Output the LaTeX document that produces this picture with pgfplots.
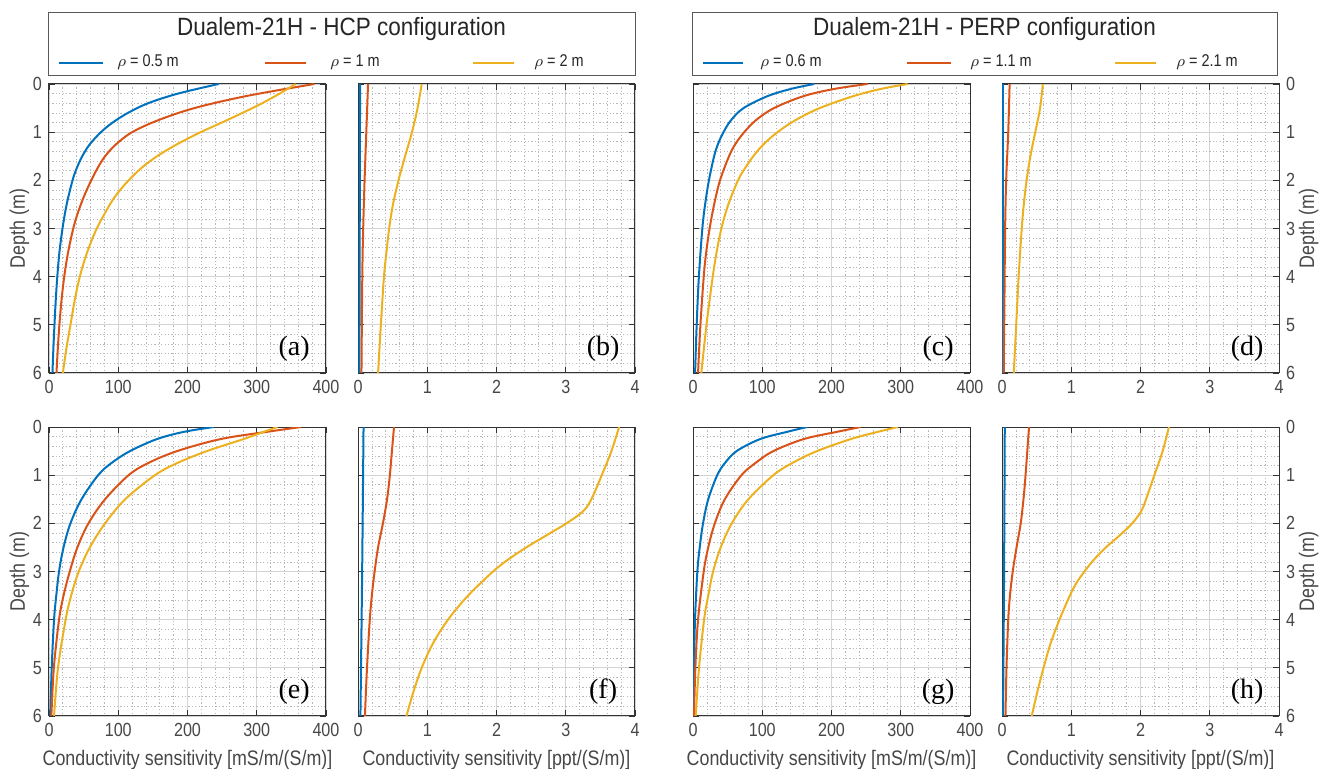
\documentclass[border=0pt]{standalone}
\usepackage{fontspec}
\setmainfont{Liberation Sans}[FakeStretch=0.85]
\newfontfamily\titlefont{Liberation Sans}[FakeStretch=0.9]
\newfontfamily\panelfont{Liberation Serif}
\usepackage{pgfplots}
\pgfplotsset{compat=1.18}
\definecolor{mblue}{RGB}{0,114,189}
\definecolor{mred}{RGB}{217,83,25}
\definecolor{myel}{RGB}{237,177,32}
\pgfplotsset{
  panel/.style={scale only axis, width=138.5pt, height=144.5pt,
    y dir=reverse, ymin=0, ymax=6, ytick={0,1,...,6},
    grid=both, minor x tick num=4, minor y tick num=4,
    major grid style={black!17, line width=0.4pt},
    minor grid style={black!28, dash pattern=on 0.6pt off 1.1pt, line width=0.35pt},
    tick align=inside, axis line style={black!80, line width=0.5pt},
    tick style={black!80, line width=0.4pt},
    major tick length=3pt, minor tick length=0pt,
    ticklabel style={font=\fontsize{9.5}{10}\selectfont, text=black!72},
    label style={font=\fontsize{10.5}{12}\selectfont, text=black!72},
    ylabel shift=-5pt,
    /pgf/number format/assume math mode=true,
    anchor=north west},
  cv/.style={line width=1pt, smooth, tension=0.55},
  sens/.style={xmin=0, xmax=400, xtick={0,100,...,400}},
  ppt/.style={xmin=0, xmax=4, xtick={0,1,...,4}},
  noyl/.style={yticklabels={}},
  rightyl/.style={yticklabel pos=right, ylabel={Depth (m)}},
  leftyl/.style={ylabel={Depth (m)}},
}
\newcommand{\plabel}[1]{\node[font=\panelfont\fontsize{14}{14}\selectfont, text=black] at (axis description cs:0.885,0.085) {#1};}
\begin{document}
\begin{tikzpicture}
\useasboundingbox (0,0) rectangle (661.5pt,-384.5pt);
% ---------- legend boxes ----------
\draw[black!65, line width=0.5pt, fill=white] (24pt,-6.5pt) rectangle (317.5pt,-38pt);
\node[font=\titlefont\fontsize{12.5}{12.5}\selectfont, text=black!85] at (170.75pt,-14.5pt) {Dualem-21H - HCP configuration};
\draw[mblue, line width=1pt] (29.5pt,-31.5pt) -- (51.5pt,-31.5pt);
\node[anchor=west, inner sep=0pt, font=\fontsize{8.5}{9}\selectfont, text=black!85] at (58.5pt,-31pt) {$\rho$ = 0.5 m};
\draw[mred, line width=1pt] (132.5pt,-31.5pt) -- (153pt,-31.5pt);
\node[anchor=west, inner sep=0pt, font=\fontsize{8.5}{9}\selectfont, text=black!85] at (165pt,-31pt) {$\rho$ = 1 m};
\draw[myel, line width=1pt] (236.5pt,-31.5pt) -- (257pt,-31.5pt);
\node[anchor=west, inner sep=0pt, font=\fontsize{8.5}{9}\selectfont, text=black!85] at (267pt,-31pt) {$\rho$ = 2 m};

\draw[black!65, line width=0.5pt, fill=white] (346pt,-6.5pt) rectangle (638.5pt,-38pt);
\node[font=\titlefont\fontsize{12.5}{12.5}\selectfont, text=black!85] at (492.25pt,-14.5pt) {Dualem-21H - PERP configuration};
\draw[mblue, line width=1pt] (351.5pt,-31.5pt) -- (371.5pt,-31.5pt);
\node[anchor=west, inner sep=0pt, font=\fontsize{8.5}{9}\selectfont, text=black!85] at (380pt,-31pt) {$\rho$ = 0.6 m};
\draw[mred, line width=1pt] (453.5pt,-31.5pt) -- (475.5pt,-31.5pt);
\node[anchor=west, inner sep=0pt, font=\fontsize{8.5}{9}\selectfont, text=black!85] at (485pt,-31pt) {$\rho$ = 1.1 m};
\draw[myel, line width=1pt] (557.5pt,-31.5pt) -- (578pt,-31.5pt);
\node[anchor=west, inner sep=0pt, font=\fontsize{8.5}{9}\selectfont, text=black!85] at (588pt,-31pt) {$\rho$ = 2.1 m};

% ---------- (a) ----------
\begin{axis}[panel, sens, leftyl, at={(24.5pt,-42pt)}]
\addplot[mblue, cv] coordinates {(245,0) (186,0.2) (143,0.4) (114,0.6) (92,0.8) (75,1.0) (59,1.25) (48,1.5) (40,1.75) (34,2.0) (25.5,2.5) (19.5,3.0) (15,3.5) (12,4.0) (9.7,4.5) (7.9,5.0) (6.3,5.5) (5,6.0)};
\addplot[mred, cv] coordinates {(383,0) (285,0.25) (210,0.5) (158,0.75) (120,1.0) (97,1.25) (81,1.5) (70,1.75) (61,2.0) (53,2.25) (46,2.5) (40,2.75) (35,3.0) (27.5,3.5) (22,4.0) (18,4.5) (15,5.0) (12.7,5.5) (10.8,6.0)};
\addplot[myel, cv] coordinates {(356,0) (333,0.2) (305,0.42) (275,0.63) (245,0.83) (219,1.0) (185,1.25) (156,1.5) (133,1.75) (115,2.0) (100,2.25) (88,2.5) (69,3.0) (55,3.5) (44.5,4.0) (37,4.5) (31,5.0) (25,5.5) (20,6.0)};
\plabel{(a)}
\end{axis}
% ---------- (b) ----------
\begin{axis}[panel, ppt, noyl, at={(179pt,-42pt)}]
\addplot[mblue, cv] coordinates {(0.03,0) (0.025,3) (0.02,6)};
\addplot[mred, cv] coordinates {(0.145,0) (0.12,1) (0.095,2) (0.075,3) (0.062,4) (0.05,6)};
\addplot[myel, cv] coordinates {(0.92,0) (0.86,0.5) (0.78,1.0) (0.68,1.5) (0.585,2.0) (0.505,2.5) (0.45,3.0) (0.41,3.5) (0.375,4.0) (0.33,5.0) (0.29,6.0)};
\plabel{(b)}
\end{axis}
% ---------- (c) ----------
\begin{axis}[panel, sens, noyl, at={(346.5pt,-42pt)}]
\addplot[mblue, cv] coordinates {(175,0) (142,0.1) (108,0.25) (73,0.5) (55,0.75) (44,1) (36,1.25) (30.5,1.5) (23,2) (17.5,2.5) (13.5,3) (8.5,4) (5.3,5) (3,6)};
\addplot[mred, cv] coordinates {(252,0) (205,0.1) (160,0.25) (117,0.5) (91,0.75) (74,1) (61,1.25) (52,1.5) (39,2) (30.5,2.5) (24,3) (19,3.5) (15.5,4) (10.7,5) (7.3,6)};
\addplot[myel, cv] coordinates {(310,0) (272,0.1) (232,0.25) (183,0.5) (148,0.75) (122,1) (102,1.25) (87,1.5) (75,1.75) (65,2) (51,2.5) (41,3) (34,3.5) (28.5,4) (19.5,5) (12,6)};
\plabel{(c)}
\end{axis}
% ---------- (d) ----------
\begin{axis}[panel, ppt, rightyl, at={(501pt,-42pt)}]
\addplot[mblue, cv] coordinates {(0.015,0) (0.015,6)};
\addplot[mred, cv] coordinates {(0.11,0) (0.09,1) (0.06,2) (0.045,3) (0.035,4.5) (0.025,6)};
\addplot[myel, cv] coordinates {(0.59,0) (0.55,0.5) (0.48,1.0) (0.41,1.5) (0.355,2.0) (0.315,2.5) (0.285,3.0) (0.24,4.0) (0.205,5.0) (0.17,6.0)};
\plabel{(d)}
\end{axis}
% ---------- (e) ----------
\begin{axis}[panel, sens, leftyl, at={(24.5pt,-213.5pt)}, xlabel={Conductivity sensitivity [mS/m/(S/m)]}]
\addplot[mblue, cv] coordinates {(238,0) (195,0.1) (156,0.25) (117,0.5) (90,0.75) (71,1) (47,1.5) (31,2) (21,2.5) (14.5,3) (10.5,3.5) (7.3,4) (3.9,5) (1.9,6)};
\addplot[mred, cv] coordinates {(364,0) (315,0.1) (248,0.25) (185,0.5) (143,0.75) (115,1) (81,1.5) (57,2) (41,2.5) (30,3) (21,3.5) (14.5,4) (7,5) (3.4,6)};
\addplot[myel, cv] coordinates {(330,0) (310,0.1) (281,0.25) (228,0.5) (185,0.75) (153,1) (110,1.5) (81,2) (59,2.5) (43,3) (32,3.5) (24,4) (13,5) (7.3,6)};
\plabel{(e)}
\end{axis}
% ---------- (f) ----------
\begin{axis}[panel, ppt, noyl, at={(179pt,-213.5pt)}, xlabel={Conductivity sensitivity [ppt/(S/m)]}]
\addplot[mblue, cv] coordinates {(0.08,0) (0.06,3) (0.035,6)};
\addplot[mred, cv] coordinates {(0.52,0) (0.49,0.5) (0.46,1) (0.42,1.5) (0.36,2) (0.29,2.5) (0.24,3) (0.20,3.5) (0.17,4) (0.13,5) (0.10,6)};
\addplot[myel, cv] coordinates {(3.77,0) (3.66,0.5) (3.52,1) (3.37,1.5) (3.25,1.75) (3.01,2) (2.72,2.25) (2.43,2.5) (2.17,2.75) (1.95,3) (1.59,3.5) (1.30,4) (1.08,4.5) (0.92,5) (0.80,5.5) (0.70,6)};
\plabel{(f)}
\end{axis}
% ---------- (g) ----------
\begin{axis}[panel, sens, noyl, at={(346.5pt,-213.5pt)}, xlabel={Conductivity sensitivity [mS/m/(S/m)]}]
\addplot[mblue, cv] coordinates {(165,0) (136,0.1) (97,0.25) (63,0.5) (46,0.75) (35,1) (22,1.5) (14.5,2) (9.7,2.5) (6.3,3) (2.9,4) (1.5,5) (0.5,6)};
\addplot[mred, cv] coordinates {(242,0) (208,0.1) (160,0.25) (116,0.5) (90,0.75) (70,1) (46,1.5) (31.5,2) (22,2.5) (15.5,3) (7.3,4) (3.4,5) (1.5,6)};
\addplot[myel, cv] coordinates {(296,0) (267,0.1) (228,0.25) (179,0.5) (143,0.75) (116,1) (80,1.5) (56,2) (40,2.5) (29,3) (22,3.5) (16,4) (8.7,5) (3.9,6)};
\plabel{(g)}
\end{axis}
% ---------- (h) ----------
\begin{axis}[panel, ppt, rightyl, at={(501pt,-213.5pt)}, xlabel={Conductivity sensitivity [ppt/(S/m)]}]
\addplot[mblue, cv] coordinates {(0.04,0) (0.03,3) (0.015,6)};
\addplot[mred, cv] coordinates {(0.39,0) (0.34,1) (0.31,1.5) (0.27,2) (0.21,2.5) (0.155,3) (0.115,3.5) (0.09,4) (0.065,5) (0.05,6)};
\addplot[myel, cv] coordinates {(2.41,0) (2.32,0.5) (2.20,1) (2.08,1.5) (2.01,1.75) (1.88,2) (1.70,2.25) (1.50,2.5) (1.33,2.75) (1.19,3) (1.07,3.25) (0.98,3.5) (0.83,4) (0.70,4.5) (0.60,5) (0.51,5.5) (0.43,6)};
\plabel{(h)}
\end{axis}
\end{tikzpicture}
\end{document}
